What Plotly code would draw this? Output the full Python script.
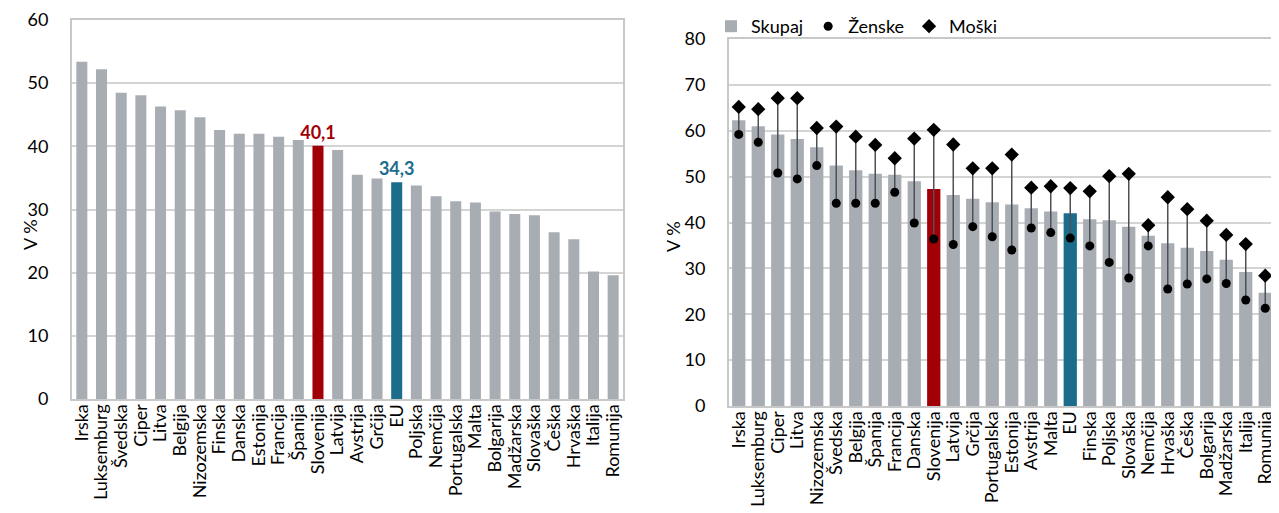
import plotly.graph_objects as go

# levi graf
drzave_l = ["Irska", "Luksemburg", "Švedska", "Ciper", "Litva", "Belgija", "Nizozemska",
            "Finska", "Danska", "Estonija", "Francija", "Španija", "Slovenija", "Latvija",
            "Avstrija", "Grčija", "EU", "Poljska", "Nemčija", "Portugalska", "Malta",
            "Bolgarija", "Madžarska", "Slovaška", "Češka", "Hrvaška", "Italija", "Romunija"]
vrednosti_l = [53.4, 52.2, 48.5, 48.1, 46.3, 45.7, 44.6, 42.6, 42.0, 42.0, 41.5, 41.0, 40.1, 39.4,
               35.5, 34.9, 34.3, 33.8, 32.1, 31.3, 31.1, 29.7, 29.3, 29.1, 26.4, 25.3, 20.2, 19.6]

# desni graf
drzave_d = ["Irska", "Luksemburg", "Ciper", "Litva", "Nizozemska", "Švedska", "Belgija", "Španija",
            "Francija", "Danska", "Slovenija", "Latvija", "Grčija", "Portugalska", "Estonija",
            "Avstrija", "Malta", "EU", "Finska", "Poljska", "Slovaška", "Nemčija", "Hrvaška",
            "Češka", "Bolgarija", "Madžarska", "Italija", "Romunija"]
skupaj = [62.3, 61.0, 59.2, 58.2, 56.4, 52.4, 51.4, 50.6, 50.4, 49.0, 47.3, 46.0, 45.2, 44.4,
          43.9, 43.1, 42.4, 42.0, 40.7, 40.5, 39.1, 37.1, 35.5, 34.5, 33.8, 31.9, 29.2, 24.7]
zenske = [59.2, 57.5, 50.8, 49.5, 52.4, 44.2, 44.2, 44.2, 46.6, 39.9, 36.4, 35.2, 39.1, 36.9,
          34.0, 38.8, 37.8, 36.6, 34.9, 31.3, 27.9, 34.9, 25.5, 26.6, 27.7, 26.7, 23.1, 21.3]
moski = [65.2, 64.7, 67.1, 67.1, 60.6, 60.9, 58.7, 56.9, 54.0, 58.3, 60.2, 57.0, 51.8, 51.8,
         54.8, 47.6, 47.9, 47.5, 46.8, 50.1, 50.6, 39.4, 45.5, 42.9, 40.4, 37.3, 35.3, 28.4]

SIVA = "#a8adb3"
RDECA = "#a10006"
MODRA = "#1b6d8b"
FONT = "Lato"


def barva(d):
    return RDECA if d == "Slovenija" else (MODRA if d == "EU" else SIVA)


fig = go.Figure()

oznake = ["<b>40,1</b>" if d == "Slovenija" else ("<b>34,3</b>" if d == "EU" else "") for d in drzave_l]
fig.add_trace(go.Bar(
    x=drzave_l, y=vrednosti_l, width=0.56,
    marker=dict(color=[barva(d) for d in drzave_l], line_width=0),
    text=oznake, textposition="outside", cliponaxis=False, constraintext="none",
    textfont=dict(size=18, color=[barva(d) for d in drzave_l]),
    showlegend=False, xaxis="x", yaxis="y",
))

fig.add_trace(go.Bar(
    x=drzave_d, y=skupaj, name="Skupaj", width=0.68,
    marker=dict(color=[barva(d) for d in drzave_d], line_width=0),
    xaxis="x2", yaxis="y2",
))

# črte med ženskami in moškimi
lx, ly = [], []
for d, z, m in zip(drzave_d, zenske, moski):
    lx += [d, d, None]
    ly += [z, m, None]
fig.add_trace(go.Scatter(x=lx, y=ly, mode="lines", line=dict(color="#4d5157", width=1.5),
                         showlegend=False, hoverinfo="skip", xaxis="x2", yaxis="y2"))

fig.add_trace(go.Scatter(x=drzave_d, y=zenske, mode="markers", name="Ženske",
                         marker=dict(symbol="circle", size=9, color="black"), xaxis="x2", yaxis="y2"))
fig.add_trace(go.Scatter(x=drzave_d, y=moski, mode="markers", name="Moški",
                         marker=dict(symbol="diamond", size=11, color="black"), xaxis="x2", yaxis="y2"))

# stran ima 8 px roba, zato so položaji zamaknjeni
W, H = 1271, 505
ROB = 8


def px(x):
    return (x - ROB) / W


def py(y):
    return 1 - (y - ROB) / H


os_x = dict(tickangle=-90, showgrid=False, showline=True, linecolor="#c8c8c8", linewidth=2,
            mirror=True, ticks="", automargin=False, tickmode="linear", dtick=1,
            tickfont=dict(size=18, color="black"), ticklabelstandoff=-4)
os_y = dict(dtick=10, showgrid=True, gridcolor="#d4d4d4", gridwidth=1.5, showline=True,
            linecolor="#c8c8c8", linewidth=2, mirror=True, ticks="", zeroline=False,
            automargin=False, tickfont=dict(size=18, color="black"), ticklabelstandoff=18)

fig.update_layout(
    width=W, height=H,
    margin=dict(l=0, r=0, t=0, b=0, autoexpand=False),
    paper_bgcolor="white", plot_bgcolor="white",
    font=dict(family=FONT, size=18, color="black"),
    xaxis=dict(domain=[px(72), px(623)], anchor="y", range=[-0.5, len(drzave_l) - 0.5], **os_x),
    yaxis=dict(domain=[py(399), py(20)], range=[0, 60], anchor="x", **os_y),
    xaxis2=dict(domain=[px(729), px(1275)], anchor="y2", range=[-0.5, len(drzave_d) - 0.5], **os_x),
    yaxis2=dict(domain=[py(406), py(39)], range=[0, 80], anchor="x2", **os_y),
    legend=dict(orientation="h", x=px(711), xanchor="left", y=py(ROB), yanchor="top",
                font=dict(size=18), itemwidth=30, tracegroupgap=0, bgcolor="rgba(0,0,0,0)"),
    annotations=[
        dict(text="V %", x=px(17), y=py(235), xref="paper", yref="paper", textangle=-90,
             showarrow=False, font=dict(size=18)),
        dict(text="V %", x=px(673), y=py(237), xref="paper", yref="paper", textangle=-90,
             showarrow=False, font=dict(size=18)),
    ],
)

fig.write_html("out.html")
